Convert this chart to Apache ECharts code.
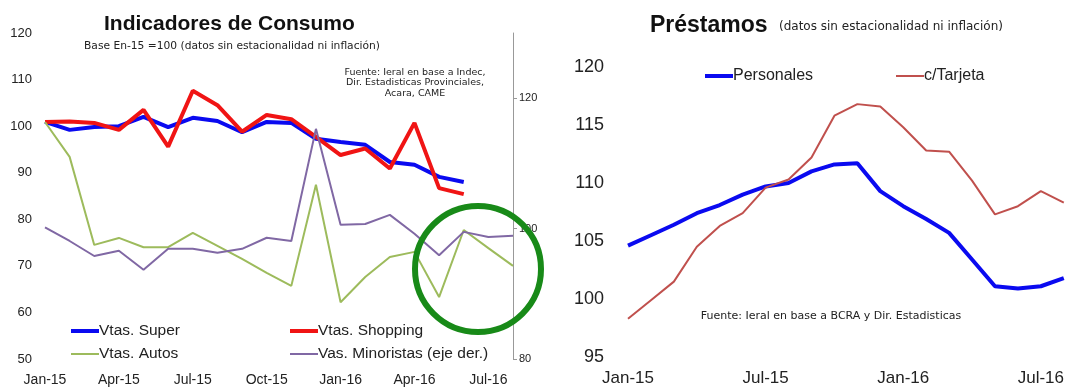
<!DOCTYPE html>
<html>
<head>
<meta charset="utf-8">
<script src="https://cdn.jsdelivr.net/npm/echarts@6/dist/echarts.min.js"></script>
<style>
  html, body { margin: 0; padding: 0; background: #fff; }
  #main { width: 1067px; height: 390px; }
</style>
</head>
<body>
<div id="main"></div>
<script>
// meses (eje x de ambos graficos)
const meses = ['Jan-15', 'Feb-15', 'Mar-15', 'Apr-15', 'May-15', 'Jun-15', 'Jul-15', 'Aug-15', 'Sep-15', 'Oct-15',
  'Nov-15', 'Dec-15', 'Jan-16', 'Feb-16', 'Mar-16', 'Apr-16', 'May-16', 'Jun-16', 'Jul-16', 'Aug-16']

// Indicadores de Consumo (eje izq.)
const vtasSuper = [100.9, 99.2, 99.8, 100.0, 102.0, 99.8, 101.8, 101.1, 98.7, 100.9, 100.7, 97.3, 96.6, 96.0, 92.3, 91.7, 89.1, 88.0]
const vtasShopping = [100.9, 101.0, 100.7, 99.2, 103.5, 95.6, 107.6, 104.5, 98.8, 102.4, 101.5, 97.7, 93.8, 95.2, 90.9, 100.7, 86.7, 85.4]
const vtasAutos = [100.9, 93.4, 74.5, 76.0, 74.0, 74.0, 77.1, 74.3, 71.5, 68.5, 65.7, 87.4, 62.2, 67.6, 71.9, 73.0, 63.3, 77.7, 73.8, 70.0]
// eje der.
const vasMinoristas = [100.2, 98.1, 95.8, 96.6, 93.7, 96.9, 96.9, 96.3, 96.9, 98.6, 98.1, 115.3, 100.6, 100.7, 102.1, 99.2, 95.9, 99.5, 98.7, 98.9]

// Prestamos
const personales = [104.6, 105.5, 106.4, 107.4, 108.1, 109.0, 109.7, 110.0, 111.0, 111.6, 111.7, 109.3, 108.0, 106.9, 105.7, 103.4, 101.1, 100.9, 101.1, 101.8]
const tarjeta = [98.3, 99.9, 101.5, 104.5, 106.3, 107.4, 109.6, 110.3, 112.2, 115.8, 116.8, 116.6, 114.8, 112.8, 112.7, 110.2, 107.3, 108.0, 109.3, 108.3]

const FONT = 'Liberation Sans, Arial, sans-serif'
const SMALL = 'DejaVu Sans, Verdana, sans-serif' // notas chicas, letra mas ancha
const TXT = '#222'

let myChart = echarts.init(document.getElementById('main'))

function leyenda (name, left, top, h, size) {
  return {
    data: [name],
    left: left,
    top: top,
    icon: 'rect',
    itemWidth: 28,
    itemHeight: h,
    itemGap: 0,
    selectedMode: false,
    textStyle: { fontFamily: FONT, fontSize: size, color: TXT, padding: [0, 0, 0, -5] }
  }
}

let option = {
  backgroundColor: '#fff',
  animation: false,
  title: [
    {
      text: 'Indicadores de Consumo',
      left: 99,
      top: 9,
      textStyle: { fontFamily: FONT, fontSize: 21, fontWeight: 'bold', color: '#111' }
    },
    {
      text: 'Préstamos',
      left: 645,
      top: 9,
      textStyle: { fontFamily: FONT, fontSize: 23, fontWeight: 'bold', color: '#111' }
    }
  ],
  legend: [
    leyenda('Vtas. Super', 66, 318, 4, 15.5),
    leyenda('Vtas. Shopping', 285, 318, 4, 15.5),
    leyenda('Vtas. Autos', 66, 341, 2, 15.5),
    leyenda('Vas. Minoristas (eje der.)', 285, 341, 2, 15.5),
    leyenda('Personales', 700, 63, 4, 16),
    leyenda('c/Tarjeta', 891, 63, 2, 16)
  ],
  grid: [
    { left: 45, right: 554, top: 33, bottom: 31 },
    { left: 628, width: 445, top: 67, bottom: 33 }
  ],
  xAxis: [
    {
      type: 'category',
      gridIndex: 0,
      data: meses,
      boundaryGap: false,
      axisLine: { show: false },
      axisTick: { show: false },
      axisLabel: { interval: 2, margin: 14, fontFamily: FONT, fontSize: 14, color: TXT }
    },
    {
      type: 'category',
      gridIndex: 1,
      data: meses,
      boundaryGap: false,
      axisLine: { show: false },
      axisTick: { show: false },
      axisLabel: { interval: 5, margin: 13, fontFamily: FONT, fontSize: 17, color: TXT }
    }
  ],
  yAxis: [
    {
      type: 'value',
      gridIndex: 0,
      min: 50,
      max: 120,
      interval: 10,
      axisLine: { show: false },
      axisTick: { show: false },
      splitLine: { show: false },
      axisLabel: { margin: 13, fontFamily: FONT, fontSize: 13, color: TXT }
    },
    {
      type: 'value',
      gridIndex: 0,
      position: 'right',
      min: 80,
      max: 130,
      interval: 20,
      axisLine: { show: true, lineStyle: { color: '#999', width: 1 } },
      axisTick: { show: true, length: 4, lineStyle: { color: '#999' } },
      splitLine: { show: false },
      axisLabel: { margin: 6, showMaxLabel: false, fontFamily: FONT, fontSize: 11, color: TXT }
    },
    {
      type: 'value',
      gridIndex: 1,
      min: 95,
      max: 120,
      interval: 5,
      axisLine: { show: false },
      axisTick: { show: false },
      splitLine: { show: false },
      axisLabel: { margin: 24, fontFamily: FONT, fontSize: 18, color: TXT }
    }
  ],
  series: [
    {
      name: 'Vtas. Super',
      type: 'line',
      xAxisIndex: 0,
      yAxisIndex: 0,
      data: vtasSuper,
      symbol: 'none',
      color: '#0a0af0',
      lineStyle: { width: 4 }
    },
    {
      name: 'Vtas. Shopping',
      type: 'line',
      xAxisIndex: 0,
      yAxisIndex: 0,
      data: vtasShopping,
      symbol: 'none',
      color: '#f01414',
      lineStyle: { width: 4 }
    },
    {
      name: 'Vtas. Autos',
      type: 'line',
      xAxisIndex: 0,
      yAxisIndex: 0,
      data: vtasAutos,
      symbol: 'none',
      color: '#9dbb5c',
      lineStyle: { width: 2 }
    },
    {
      name: 'Vas. Minoristas (eje der.)',
      type: 'line',
      xAxisIndex: 0,
      yAxisIndex: 1,
      data: vasMinoristas,
      symbol: 'none',
      color: '#8068a4',
      lineStyle: { width: 2 }
    },
    {
      name: 'Personales',
      type: 'line',
      xAxisIndex: 1,
      yAxisIndex: 2,
      data: personales,
      symbol: 'none',
      color: '#0a0af0',
      lineStyle: { width: 4 }
    },
    {
      name: 'c/Tarjeta',
      type: 'line',
      xAxisIndex: 1,
      yAxisIndex: 2,
      data: tarjeta,
      symbol: 'none',
      color: '#c0504d',
      lineStyle: { width: 2 }
    }
  ],
  graphic: [
    {
      type: 'text',
      left: 84,
      top: 41,
      style: {
        text: 'Base En-15 =100 (datos sin estacionalidad ni inflación)',
        font: '10.7px ' + SMALL,
        fill: TXT
      }
    },
    {
      type: 'text',
      x: 415,
      y: 67,
      style: {
        text: 'Fuente: Ieral en base a Indec,\nDir. Estadisticas Provinciales,\nAcara, CAME',
        font: '9.5px ' + SMALL,
        lineHeight: 10.5,
        align: 'center',
        fill: TXT
      }
    },
    {
      type: 'text',
      left: 779,
      top: 21,
      style: {
        text: '(datos sin estacionalidad ni inflación)',
        font: '12px ' + SMALL,
        fill: TXT
      }
    },
    {
      type: 'text',
      x: 831,
      y: 311,
      style: {
        text: 'Fuente: Ieral en base a BCRA y Dir. Estadisticas',
        font: '11px ' + SMALL,
        align: 'center',
        fill: TXT
      }
    },
    {
      // circulo verde de la anotacion
      type: 'circle',
      shape: { cx: 478, cy: 269, r: 63 },
      style: { fill: 'none', stroke: '#188a18', lineWidth: 6 },
      z: 100
    }
  ]
}
myChart.setOption(option)
</script>
</body>
</html>
